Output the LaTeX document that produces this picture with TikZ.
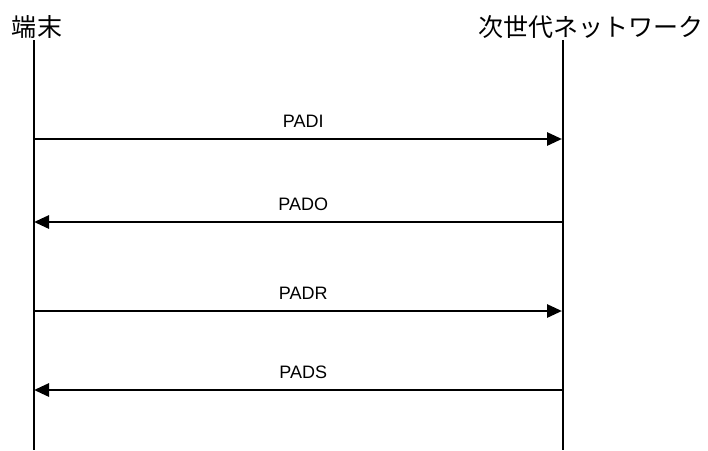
\documentclass[tikz,border=0pt]{standalone}
\usepackage{fontspec}
\setmainfont{Liberation Sans}
\newfontfamily\cjk{Noto Sans CJK JP}
\usetikzlibrary{arrows.meta}
\begin{document}
\begin{tikzpicture}[x=1pt,y=-1pt,
  lifeline/.style={line width=1.5pt},
  msg/.style={line width=2.8pt,-{Triangle[length=15pt,width=13pt]}},
  msglabel/.style={font=\fontsize{18}{21}\selectfont,anchor=base},
  actor/.style={font=\cjk\fontsize{25}{29}\selectfont,anchor=base}]
\useasboundingbox (0,0) rectangle (708,450);
\node[actor] (a) at (37,36) {端末};
\node[actor] (b) at (591,36) {次世代ネットワーク};
\coordinate (at) at (34,40);
\coordinate (ab) at (34,450);
\coordinate (bt) at (563,40);
\coordinate (bb) at (563,450);
\draw[lifeline] (at) -- (ab);
\draw[lifeline] (bt) -- (bb);
\coordinate (a1) at (34,139); \coordinate (b1) at (562,139);
\coordinate (a2) at (34,222); \coordinate (b2) at (562,222);
\coordinate (a3) at (34,311); \coordinate (b3) at (562,311);
\coordinate (a4) at (34,390); \coordinate (b4) at (562,390);
\draw[msg] (a1) -- (b1) node[msglabel,pos=0.51,yshift=12pt] (l1) {PADI};
\draw[msg] (b2) -- (a2) node[msglabel,pos=0.49,yshift=12pt] (l2) {PADO};
\draw[msg] (a3) -- (b3) node[msglabel,pos=0.51,yshift=12pt] (l3) {PADR};
\draw[msg] (b4) -- (a4) node[msglabel,pos=0.49,yshift=12pt] (l4) {PADS};
\end{tikzpicture}
\end{document}
